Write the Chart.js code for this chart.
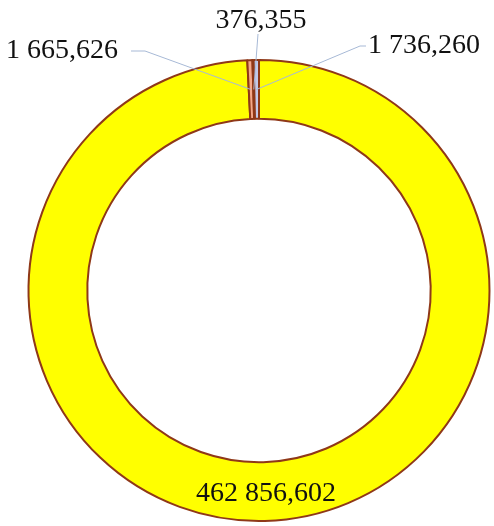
<!DOCTYPE html>
<html>
<head>
<meta charset="utf-8">
<script src="https://cdn.jsdelivr.net/npm/chart.js@4.4.1/dist/chart.umd.min.js"></script>
<style>
  html, body { margin: 0; padding: 0; background: #fff; }
  canvas { display: block; }
</style>
</head>
<body>
<canvas id="anneau" width="494" height="526"></canvas>
<script>
// Données du graphique
var categories = ['Catégorie 1', 'Catégorie 2', 'Catégorie 3', 'Catégorie 4'];
var valeurs = [462856.602, 1665.626, 376.355, 1736.260];
var couleurs = ['#ffff00', '#f4a88a', '#d9b0c4', '#c3c9ea'];

// 1 736,260 -> espace pour les milliers, virgule pour les décimales
function formatNombre(v) {
    var parts = v.toFixed(3).split('.');
    var ent = parts[0].replace(/\B(?=(\d{3})+(?!\d))/g, ' ');
    return ent + ',' + parts[1];
}

// Étiquettes avec lignes de rappel
var etiquettesPlugin = {
    id: 'etiquettes',
    afterDatasetsDraw: function (chart) {
        var ctx = chart.ctx;
        var meta = chart.getDatasetMeta(0);
        var first = meta.data[0];
        var cx = first.x, cy = first.y;
        var haut = cy - first.outerRadius;

        // position des textes autour du centre (index -> place)
        var places = {
            1: { x: cx - 141, y: haut - 9, align: 'right', ligne: [[cx - 128, haut - 9], [cx - 114, haut - 9]] },
            2: { x: cx + 2, y: haut - 39, align: 'center', ligne: [[cx - 1, haut - 26]] },
            3: { x: cx + 109, y: haut - 14, align: 'left', ligne: [[cx + 107, haut - 14], [cx + 101, haut - 14]] }
        };

        ctx.save();
        ctx.font = "28px 'Liberation Serif', 'Times New Roman', serif";
        ctx.textBaseline = 'middle';
        ctx.fillStyle = '#111';

        meta.data.forEach(function (arc, i) {
            var p = arc.getProps(['startAngle', 'endAngle', 'innerRadius', 'outerRadius'], true);
            var mid = (p.startAngle + p.endAngle) / 2;
            var r = (p.innerRadius + p.outerRadius) / 2;
            var ax = cx + Math.cos(mid) * r;
            var ay = cy + Math.sin(mid) * r;
            var texte = formatNombre(valeurs[i]);
            var pl = places[i];

            if (!pl) {
                ctx.textAlign = 'center';
                ctx.fillText(texte, ax + 2, ay + 2);
                return;
            }

            ctx.strokeStyle = '#a7b9d6';
            ctx.lineWidth = 1;
            ctx.beginPath();
            ctx.moveTo(pl.ligne[0][0], pl.ligne[0][1]);
            for (var k = 1; k < pl.ligne.length; k++) {
                ctx.lineTo(pl.ligne[k][0], pl.ligne[k][1]);
            }
            ctx.lineTo(ax, ay);
            ctx.stroke();

            ctx.textAlign = pl.align;
            ctx.fillText(texte, pl.x, pl.y);
        });
        ctx.restore();
    }
};

new Chart(document.getElementById('anneau').getContext('2d'), {
    type: 'doughnut',
    data: {
        labels: categories,
        datasets: [{
            data: valeurs,
            backgroundColor: couleurs,
            borderColor: '#8f3818',
            borderWidth: 2,
            hoverOffset: 0
        }]
    },
    options: {
        responsive: false,
        animation: false,
        cutout: '74.5%',
        layout: {
            padding: { top: 59, bottom: 4, left: 27.5, right: 3.5 }
        },
        plugins: {
            legend: { display: false },
            tooltip: { enabled: false }
        }
    },
    plugins: [etiquettesPlugin]
});
</script>
</body>
</html>
